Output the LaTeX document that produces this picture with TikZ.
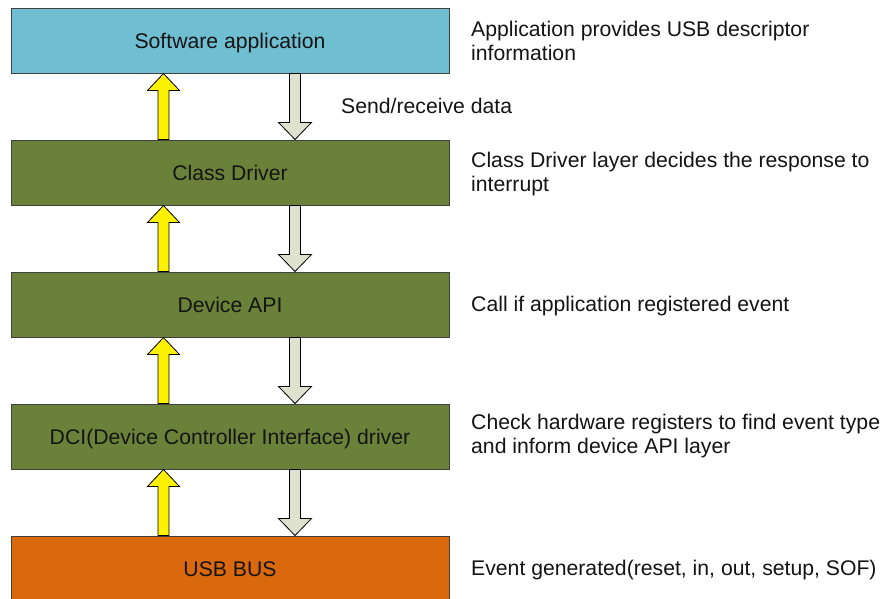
\documentclass[tikz,border=0pt]{standalone}
\usepackage{fontspec}
\setmainfont{Liberation Sans}
\usetikzlibrary{calc}
\definecolor{appblue}{RGB}{112,190,209}
\definecolor{layergreen}{RGB}{106,129,58}
\definecolor{busorange}{RGB}{217,105,12}
\definecolor{datagrey}{RGB}{221,225,205}
\definecolor{edgegrey}{RGB}{64,64,64}
\definecolor{inktext}{RGB}{20,20,20}
\newcommand\yarrow[2]{%
  \draw[uparr] ($(#1.south west)+(153,0)$) -- ($(#1.south west)+(169,17)$)
    -- ($(#1.south west)+(158.5,17)$) -- ($(#2.north west)+(158.5,0)$)
    -- ($(#2.north west)+(147.5,0)$) -- ($(#1.south west)+(147.5,17)$)
    -- ($(#1.south west)+(137,17)$) -- cycle;}
\newcommand\garrow[2]{%
  \draw[downarr] ($(#1.south west)+(279,0)$) -- ($(#1.south west)+(290,0)$)
    -- ($(#2.north west)+(290,-17)$) -- ($(#2.north west)+(301,-17)$)
    -- ($(#2.north west)+(284.5,0)$) -- ($(#2.north west)+(268,-17)$)
    -- ($(#2.north west)+(279,-17)$) -- cycle;}
\begin{document}
\begin{tikzpicture}[x=1pt,y=-1pt,
  layer/.style={draw=edgegrey, line width=1pt, minimum width=438pt, minimum height=65pt,
    inner sep=0pt, text height=15pt, text depth=0pt, text=inktext,
    font=\fontsize{21.2}{24}\selectfont},
  note/.style={anchor=base west, inner sep=0pt, text=inktext,
    font=\fontsize{21.2}{24}\selectfont},
  uparr/.style={draw=black, fill=yellow, line width=0.8pt, line join=miter},
  downarr/.style={draw=black, fill=datagrey, line width=0.8pt, line join=miter}]
\useasboundingbox (0,0) rectangle (883,598);
\clip (0,0) rectangle (883,598);
\fill[white] (0,0) rectangle (883,598);
\node[layer, fill=appblue] (app) at (230,40.5) {Software application};
\node[layer, fill=layergreen] (cls) at (230,172.5) {Class Driver};
\node[layer, fill=layergreen] (api) at (230,304.5) {Device API};
\node[layer, fill=layergreen] (dci) at (230,436.5) {DCI(Device Controller Interface) driver};
\node[layer, fill=busorange] (usb) at (230,568.5) {USB BUS};
\yarrow{app}{cls}
\garrow{app}{cls}
\yarrow{cls}{api}
\garrow{cls}{api}
\yarrow{api}{dci}
\garrow{api}{dci}
\yarrow{dci}{usb}
\garrow{dci}{usb}
\node[note] (n1) at (471,36) {\begin{tabular}[t]{@{}l@{}}Application provides USB descriptor\\information\end{tabular}};
\node[note] (n0) at (341,113) {Send/receive data};
\node[note] (n2) at (471,167) {\begin{tabular}[t]{@{}l@{}}Class Driver layer decides the response to\\interrupt\end{tabular}};
\node[note] (n3) at (471,311.5) {Call if application registered event};
\node[note] (n4) at (471,429) {\begin{tabular}[t]{@{}l@{}}Check hardware registers to find event type\\and inform device API layer\end{tabular}};
\node[note] (n5) at (471,575) {Event generated(reset, in, out, setup, SOF)};
\end{tikzpicture}
\end{document}
